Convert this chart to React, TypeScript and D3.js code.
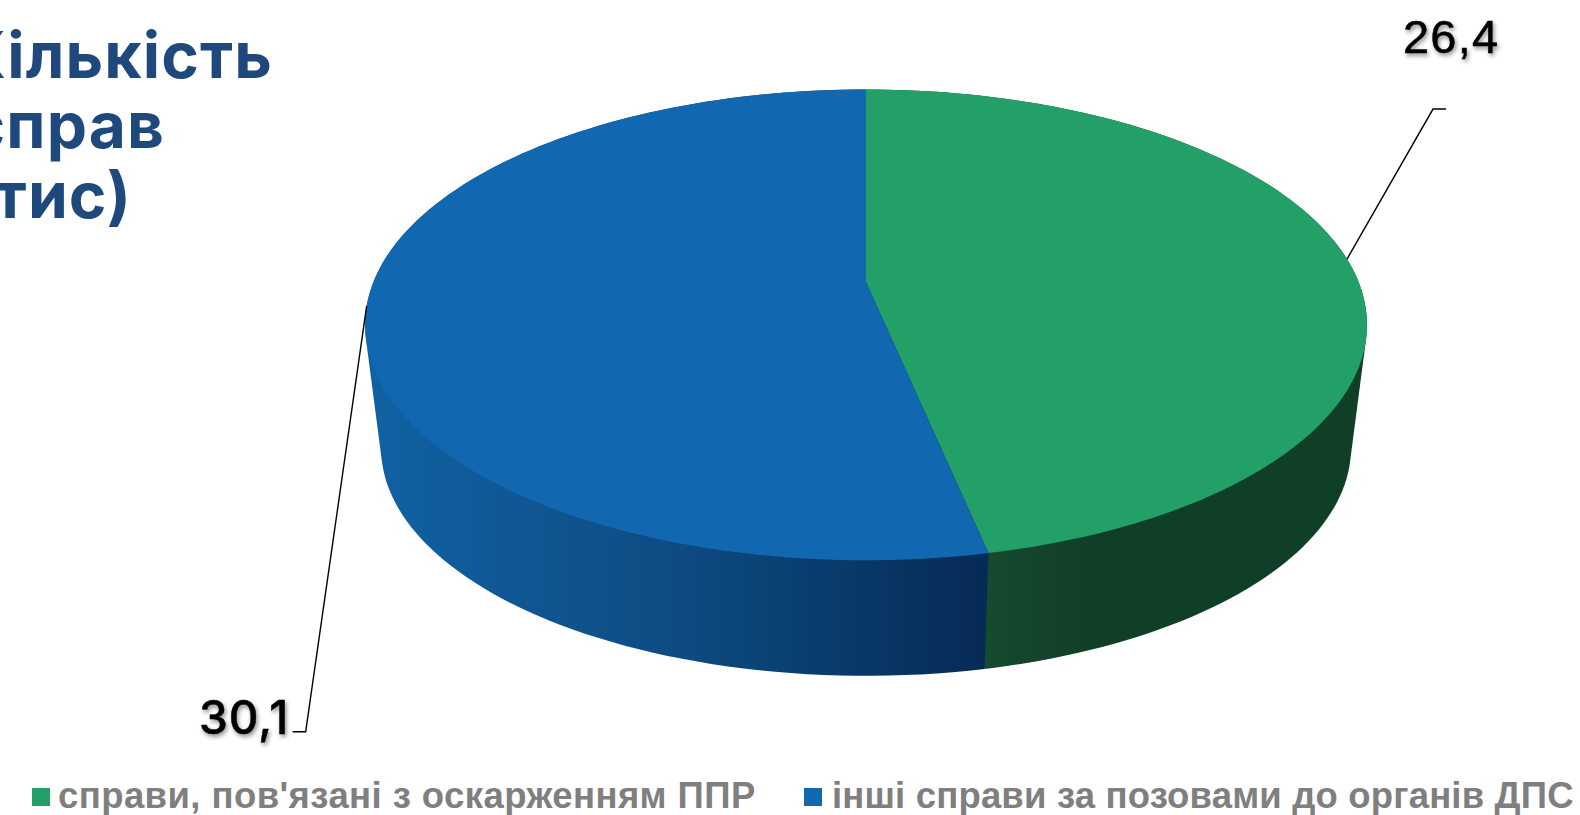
import React from 'react';
import * as d3 from 'd3';

const W = 1580;
const H = 815;

const categories = ['справи, пов\'язані з оскарженням ППР', 'інші справи за позовами до органів ДПС'];
const values = [26.4, 30.1];
const valueLabels = ['26,4', '30,1'];
const titleLines = ['Кількість', 'справ', '(тис)'];

const topColors = ['#23A067', '#1268B0'];
const sideStops = [
  ['#154B2F', '#103F27', '#103F27'],
  ['#1161A2', '#0D4B82', '#062B55'],
];
const sideOffsets = [
  [0, 0.3, 1],
  [0, 0.5, 1],
];

// the disc is a flat circle seen in perspective, so the centre sits above the middle of the ellipse
const cx = 866;
const cy = 282;
const a = 492.6;
const b = 227.6;
const k = 0.182;
const depthScale = 0.968;
const depthY = 124.5;

const project = (angle: number): [number, number] => {
  const u = Math.sin(angle);
  const v = -Math.cos(angle);
  const w = 1 - k * v;
  return [cx + (a * u) / w, cy + (b * v) / w];
};

const projectLow = (angle: number): [number, number] => {
  const [x, y] = project(angle);
  return [cx + (x - cx) * depthScale, cy + depthY + (y - cy) * depthScale];
};

const arcAngles = (start: number, end: number) =>
  d3.range(0, 121).map((i) => start + ((end - start) * i) / 120);

const pie = d3.pie<number>().sort(null);
const slices = pie(values);
const line = d3.line();

const leaders = [
  { dx: 86, dy: -150, hook: 13 },
  { dx: -61, dy: 426, hook: -13 },
];
const labelStyles = [
  { x: 1403, y: 53, size: 47, spacing: 1.2, family: 'Liberation Sans', weight: 400 },
  { x: 199, y: 734, size: 46, spacing: 1, family: 'Inter', weight: 500 },
];
const legendX = [32, 804];
const legendSpacing = [0.42, 0.17];

export default function App() {
  return (
    <svg
      width={W}
      height={H}
      viewBox={`0 0 ${W} ${H}`}
      style={{ position: 'fixed', left: 0, top: 0, background: '#fff' }}
    >
      <defs>
        <filter id="labelShadow" x="-20%" y="-20%" width="140%" height="150%">
          <feDropShadow dx="1.5" dy="2.5" stdDeviation="2" floodColor="#000" floodOpacity="0.45" />
        </filter>
        {slices.map((s, i) => {
          const visible = arcAngles(s.startAngle, s.endAngle)
            .map((t) => projectLow(t))
            .filter((p) => p[1] > cy + depthY);
          const [x0, x1] = d3.extent(visible, (p) => p[0]);
          // green runs from the seam to the right, blue from the left to the seam
          return (
            <linearGradient key={i} id={`side${i}`} gradientUnits="userSpaceOnUse" x1={x0} x2={x1} y1={0} y2={0}>
              {sideStops[i].map((c, j) => (
                <stop key={j} offset={sideOffsets[i][j]} stopColor={c} />
              ))}
            </linearGradient>
          );
        })}
      </defs>

      {titleLines.map((t, i) => (
        <text
          key={t}
          x={[273, 165, 132][i]}
          y={78 + i * 70}
          textAnchor="end"
          fontFamily="Inter"
          fontWeight={700}
          fontSize={64}
          letterSpacing={1.1}
          fill="#1F497D"
        >
          {t}
        </text>
      ))}

      {slices.map((s, i) => {
        const angles = arcAngles(s.startAngle, s.endAngle);
        const hull = d3.polygonHull([...angles.map((t) => project(t)), ...angles.map((t) => projectLow(t))]);
        return <path key={i} d={`${line(hull as [number, number][])}Z`} fill={`url(#side${i})`} />;
      })}

      {slices.map((s, i) => {
        const rim = arcAngles(s.startAngle, s.endAngle).map((t) => project(t));
        return <path key={i} d={`${line([[cx, cy], ...rim])}Z`} fill={topColors[i]} />;
      })}

      {slices.map((s, i) => {
        const [x, y] = project((s.startAngle + s.endAngle) / 2);
        const l = leaders[i];
        const ls = labelStyles[i];
        const pts: [number, number][] = [
          [x, y],
          [x + l.dx, y + l.dy],
          [x + l.dx + l.hook, y + l.dy],
        ];
        return (
          <g key={i}>
            <path d={line(pts) as string} fill="none" stroke="#000" strokeWidth={1.4} />
            <text
              x={ls.x}
              y={ls.y}
              fontFamily={ls.family}
              fontWeight={ls.weight}
              fontSize={ls.size}
              letterSpacing={ls.spacing}
              fill="#000"
              stroke="#000"
              strokeWidth={0.5}
              filter="url(#labelShadow)"
            >
              {valueLabels[i]}
            </text>
          </g>
        );
      })}

      {categories.map((c, i) => (
        <g key={c}>
          <rect x={legendX[i]} y={788} width={18} height={18} fill={topColors[i]} />
          <text
            x={legendX[i] + (i === 0 ? 26 : 28)}
            y={808}
            fontFamily="Liberation Sans"
            fontWeight={700}
            fontSize={36.5}
            letterSpacing={legendSpacing[i]}
            fill="#7F7F7F"
          >
            {c}
          </text>
        </g>
      ))}
    </svg>
  );
}
